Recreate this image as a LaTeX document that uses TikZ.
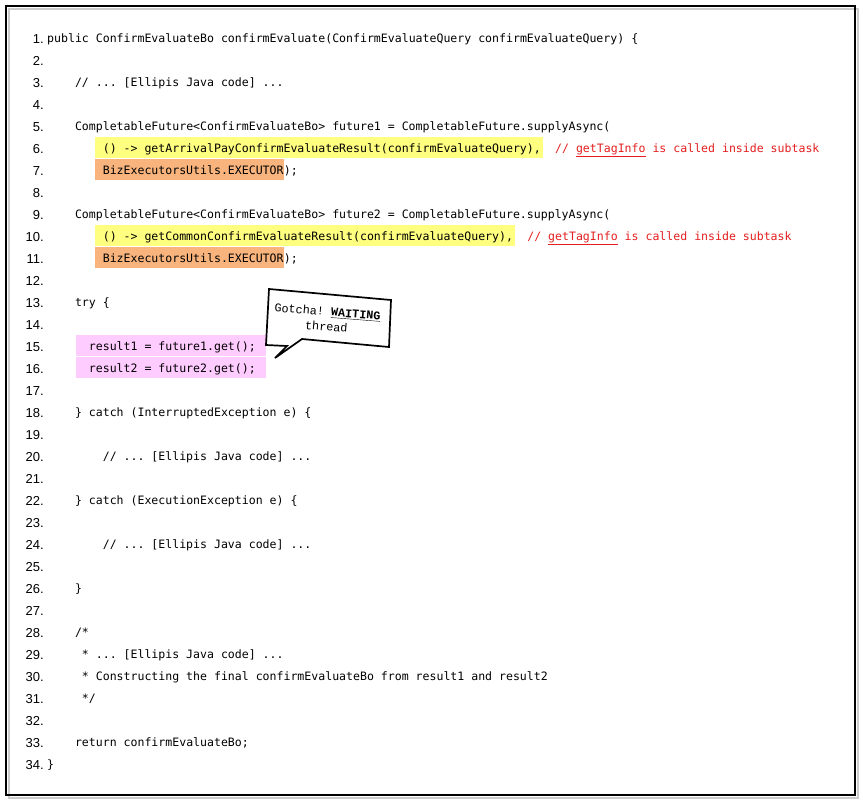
\documentclass[tikz,border=0pt]{standalone}
\usepackage{fontspec}
\setmainfont{Liberation Sans}
\setmonofont{DejaVu Sans Mono}
\newfontfamily\bubblefont{Liberation Mono}
\usetikzlibrary{positioning}
\frenchspacing
\definecolor{hlyellow}{HTML}{FFFF80}
\definecolor{hlorange}{HTML}{F8B47C}
\definecolor{hlpink}{HTML}{FFCCFF}
\definecolor{cmtred}{HTML}{E41E1E}
\tikzset{
  lineno/.style={anchor=base east, inner sep=0pt, font=\fontsize{13}{13}\selectfont},
  code/.style={anchor=base west, inner sep=0pt, text height=15pt, text depth=6pt,
    font=\ttfamily\fontsize{11.55}{12}\selectfont},
  hl/.style={code, fill=#1},
  comment/.style={code, text=cmtred},
  bubble/.style={draw, line width=1.7pt, fill=white, line join=miter},
  bubbletext/.style={align=center, rotate=-4.5, inner sep=0pt,
    font=\bubblefont\fontsize{11.8}{15}\selectfont}
}

\begin{document}
\begin{tikzpicture}[x=1pt, y=-1pt]
  \useasboundingbox (0,0) rectangle (863,804);
  \def\cw{6.95}
  % frame with its shadow
  \draw[line width=1.6pt, black!20] (9,9) rectangle (858,798);
  \draw[line width=1.6pt] (6,6) rectangle (855,795);
  % line numbers
  \foreach \n in {1,...,34}
    \node[lineno] (n\n) at (44, {21+22*\n}) {\n.};
  % code
  \node[code] (c1) at (47,42) {public ConfirmEvaluateBo confirmEvaluate(ConfirmEvaluateQuery confirmEvaluateQuery) \{};
  \node[code] (c3) at ({47+4*\cw},86) {// ... [Ellipis Java code] ...};
  \node[code] (c5) at ({47+4*\cw},130) {CompletableFuture<ConfirmEvaluateBo> future1 = CompletableFuture.supplyAsync(};
  \node[hl=hlyellow] (c6) at ({47+8*\cw-8},152) {\hspace*{8pt}() -> getArrivalPayConfirmEvaluateResult(confirmEvaluateQuery),\hspace*{2pt}};
  \node[comment, right=11.9pt of c6] (m6) {// \underline{getTagInfo} is called inside subtask};
  \node[hl=hlorange] (c7) at ({47+8*\cw-8},174) {\hspace*{8pt}BizExecutorsUtils.EXECUTOR};
  \node[code, right=0pt of c7] (e7) {);};
  \node[code] (c9) at ({47+4*\cw},218) {CompletableFuture<ConfirmEvaluateBo> future2 = CompletableFuture.supplyAsync(};
  \node[hl=hlyellow] (c10) at ({47+8*\cw-8},240) {\hspace*{8pt}() -> getCommonConfirmEvaluateResult(confirmEvaluateQuery),\hspace*{2pt}};
  \node[comment, right=11.9pt of c10] (m10) {// \underline{getTagInfo} is called inside subtask};
  \node[hl=hlorange] (c11) at ({47+8*\cw-8},262) {\hspace*{8pt}BizExecutorsUtils.EXECUTOR};
  \node[code, right=0pt of c11] (e11) {);};
  \node[code] (c13) at ({47+4*\cw},306) {try \{};
  \node[hl=hlpink] (c15) at ({47+6*\cw-13},350) {\hspace*{13pt}result1 = future1.get();\hspace*{10pt}};
  \node[hl=hlpink] (c16) at ({47+6*\cw-13},372) {\hspace*{13pt}result2 = future2.get();\hspace*{10pt}};
  \node[code] (c18) at ({47+4*\cw},416) {\} catch (InterruptedException e) \{};
  \node[code] (c20) at ({47+8*\cw},460) {// ... [Ellipis Java code] ...};
  \node[code] (c22) at ({47+4*\cw},504) {\} catch (ExecutionException e) \{};
  \node[code] (c24) at ({47+8*\cw},548) {// ... [Ellipis Java code] ...};
  \node[code] (c26) at ({47+4*\cw},592) {\}};
  \node[code] (c28) at ({47+4*\cw},636) {/*};
  \node[code] (c29) at ({47+5*\cw},658) {* ... [Ellipis Java code] ...};
  \node[code] (c30) at ({47+5*\cw},680) {* Constructing the final confirmEvaluateBo from result1 and result2};
  \node[code] (c31) at ({47+5*\cw},702) {*/};
  \node[code] (c33) at ({47+4*\cw},746) {return confirmEvaluateBo;};
  \node[code] (c34) at (47,768) {\}};
  % speech bubble
  \draw[bubble] (269,289) -- (391,300) -- (389,347) -- (302,339) -- (275,358)
    -- (287,346) -- (266,345) -- cycle;
  \node[bubbletext] (gotcha) at (327,319) {Gotcha! \smash{\underline{\textbf{WAITING}}}\\thread};
\end{tikzpicture}
\end{document}
